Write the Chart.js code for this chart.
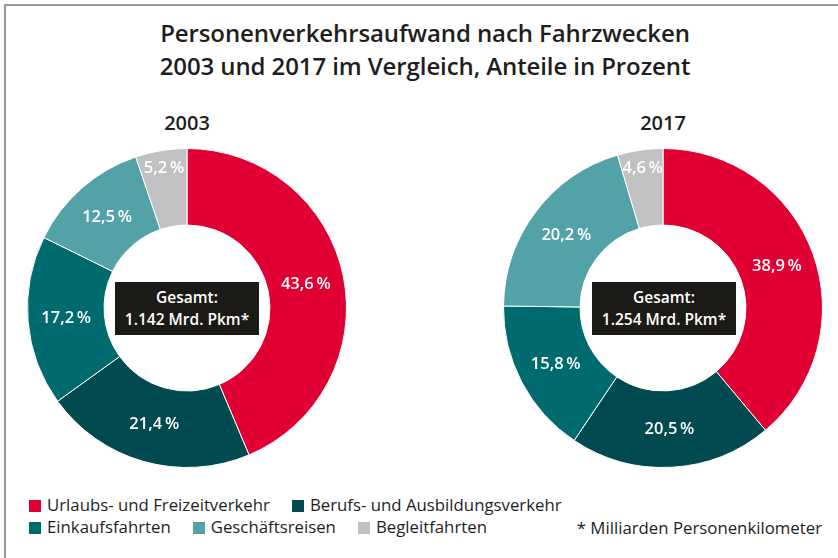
<!DOCTYPE html>
<html>
<head>
<meta charset="utf-8">
<script src="https://cdn.jsdelivr.net/npm/chart.js@4/dist/chart.umd.min.js"></script>
<style>
  html, body { margin: 0; padding: 0; background: #fff; }
  body { width: 838px; height: 558px; position: relative; overflow: hidden; font-family: "Open Sans", Lato, sans-serif; color: #1e1e1e; }
  .frame { position: absolute; left: 4px; top: 4px; width: 840px; height: 560px; border-left: 2px solid #9a9a9a; border-top: 2px solid #9a9a9a; }
  .title { position: absolute; left: 0; width: 850px; top: 16px; text-align: center; font-size: 24px; font-weight: 600; line-height: 33px; letter-spacing: -0.1px; }
  .year { position: absolute; top: 109px; width: 120px; text-align: center; font-size: 20px; font-weight: 600; }
  .wrap { position: absolute; width: 320px; height: 320px; }
  .box { position: absolute; top: 282px; width: 144px; height: 53px; background: #1c1a17; color: #fff; text-align: center; font-size: 15.5px; font-weight: 600; line-height: 22px; padding-top: 4px; box-sizing: border-box; }
  .legend { position: absolute; left: 29px; font-size: 16.8px; white-space: nowrap; }
  .legend span.item { margin-right: 22px; }
  .legend i { display: inline-block; width: 12px; height: 12px; margin-right: 6px; vertical-align: -1px; }
  .note { position: absolute; right: 16px; top: 516px; font-size: 16.8px; }
</style>
</head>
<body>
<div class="frame"></div>
<div class="title">Personenverkehrsaufwand nach Fahrzwecken<br>2003 und 2017 im Vergleich, Anteile in Prozent</div>
<div class="year" style="left:127px">2003</div>
<div class="year" style="left:603px">2017</div>
<div class="wrap" style="left:27px;top:148px"><canvas id="c2003"></canvas></div>
<div class="wrap" style="left:503px;top:148px"><canvas id="c2017"></canvas></div>
<div class="box" style="left:115px">Gesamt:<br><span id="t2003"></span></div>
<div class="box" style="left:592px">Gesamt:<br><span id="t2017"></span></div>
<div class="legend" id="leg1" style="top:493px"></div>
<div class="legend" id="leg2" style="top:515px"></div>
<div class="note">* Milliarden Personenkilometer</div>
<script>
const categories = ['Urlaubs- und Freizeitverkehr', 'Berufs- und Ausbildungsverkehr', 'Einkaufsfahrten', 'Geschäftsreisen', 'Begleitfahrten'];
const shares2003 = [43.6, 21.4, 17.2, 12.5, 5.2];
const shares2017 = [38.9, 20.5, 15.8, 20.2, 4.6];
const totals = { '2003': '1.142', '2017': '1.254' };
const colors = ['#e10033', '#004a50', '#006b6e', '#53a2a7', '#c1c1c3'];

document.getElementById('t2003').textContent = totals['2003'] + ' Mrd. Pkm*';
document.getElementById('t2017').textContent = totals['2017'] + ' Mrd. Pkm*';

// legend rows
const rows = [[0, 1], [2, 3, 4]];
rows.forEach((r, k) => {
  document.getElementById('leg' + (k + 1)).innerHTML = r.map(i =>
    '<span class="item"><i style="background:' + colors[i] + '"></i>' + categories[i] + '</span>').join('');
});

const fmt = v => v.toFixed(1).replace('.', ',') + '\u2009%';

// percent labels on the ring
const sliceLabels = {
  id: 'sliceLabels',
  afterDatasetsDraw(chart) {
    const ctx = chart.ctx;
    const meta = chart.getDatasetMeta(0);
    const vals = chart.data.datasets[0].data;
    ctx.save();
    ctx.fillStyle = '#fff';
    ctx.font = '600 16.5px "Open Sans", Lato, sans-serif';
    ctx.textAlign = 'center';
    ctx.textBaseline = 'middle';
    meta.data.forEach((arc, i) => {
      const p = arc.getProps(['x', 'y', 'startAngle', 'endAngle', 'innerRadius', 'outerRadius'], true);
      const a = (p.startAngle + p.endAngle) / 2;
      // thin slices: push label toward the outer edge
      const f = vals[i] < 6 ? 0.76 : 0.5;
      const r = p.innerRadius + (p.outerRadius - p.innerRadius) * f;
      ctx.fillText(fmt(vals[i]), p.x + Math.cos(a) * r, p.y + Math.sin(a) * r);
    });
    ctx.restore();
  }
};

function makeChart(id, values) {
  return new Chart(document.getElementById(id), {
    type: 'doughnut',
    data: {
      labels: categories,
      datasets: [{
        data: values,
        backgroundColor: colors,
        borderColor: '#fff',
        borderWidth: 1
      }]
    },
    options: {
      responsive: true,
      maintainAspectRatio: false,
      animation: false,
      cutout: '52%',
      plugins: { legend: { display: false }, tooltip: { enabled: false } }
    },
    plugins: [sliceLabels]
  });
}

makeChart('c2003', shares2003);
makeChart('c2017', shares2017);
</script>
</body>
</html>
